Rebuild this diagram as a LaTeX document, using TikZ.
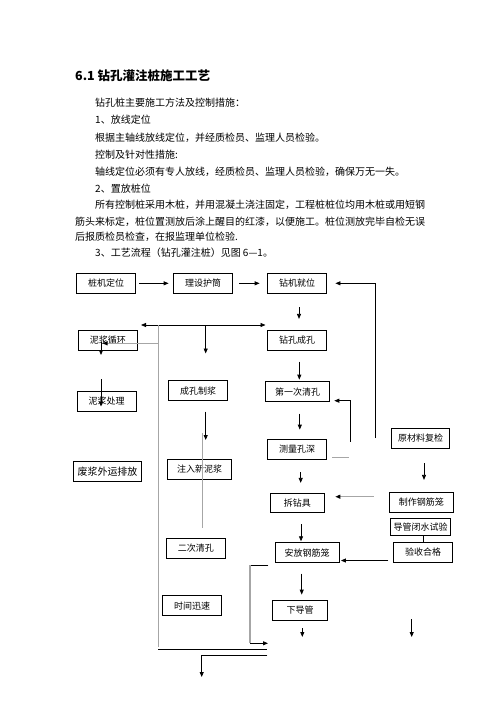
\documentclass[tikz,border=0pt]{standalone}
\usepackage{fontspec}
\setmainfont{Noto Sans CJK SC}
\usetikzlibrary{arrows.meta}
\begin{document}
\begin{tikzpicture}[x=1pt,y=-1pt,
  box/.style={draw,line width=0.8pt,inner sep=0pt,minimum height=20pt,font=\fontsize{9}{10}\selectfont},
  tip/.tip={Triangle[length=5pt,width=4pt]},
  arr/.style={line width=0.8pt,-tip},
  ln/.style={line width=0.8pt},
  gl/.style={line width=1.1pt,gray!70},
  garr/.style={line width=1.1pt,gray!70,-{Triangle[length=5pt,width=4pt,color=black]}},
  body/.style={anchor=west,inner sep=0pt,font=\fontsize{10}{12}\selectfont}]
\useasboundingbox (0,0) rectangle (496,702);
% title and body text
\node[anchor=west,inner sep=0pt,font=\fontsize{12.5}{15}\selectfont\bfseries] (title) at (75,76) {6.1 钻孔灌注桩施工工艺};
\node[body] (t1) at (95,103) {钻孔桩主要施工方法及控制措施：};
\node[body] (t2) at (95,120) {1、放线定位};
\node[body] (t3) at (95,137.3) {根据主轴线放线定位，并经质检员、监理人员检验。};
\node[body] (t4) at (95,154.3) {控制及针对性措施:};
\node[body] (t5) at (95,171.7) {轴线定位必须有专人放线，经质检员、监理人员检验，确保万无一失。};
\node[body] (t6) at (95,188.3) {2、置放桩位};
\node[body] (t7) at (95,204.7) {所有控制桩采用木桩，并用混凝土浇注固定，工程桩桩位均用木桩或用短钢};
\node[body] (t8) at (75,221.7) {筋头来标定，桩位置测放后涂上醒目的红漆，以便施工。桩位测放完毕自检无误};
\node[body] (t9) at (75,237) {后报质检员检查，在报监理单位检验.};
\node[body] (t10) at (95,253) {3、工艺流程（钻孔灌注桩）见图 6—1。};
% boxes
\node[box,minimum width=59pt] (zjdw) at (106.2,283.3) {桩机定位};
\node[box,minimum width=59.4pt] (mshst) at (203,283.3) {理设护筒};
\node[box,minimum width=59.4pt] (zjjw) at (297,283.3) {钻机就位};
\node[box,minimum width=59pt] (njxh) at (107.8,340) {泥浆循环};
\node[box,minimum width=58.7pt] (njcl) at (106.7,401) {泥浆处理};
\node[box,minimum width=68.4pt,font=\fontsize{10}{11}\selectfont] (fjwy) at (107.5,471.7) {废浆外运排放};
\node[box,minimum width=59.2pt] (ckzj) at (198,390.6) {成孔制浆};
\node[box,minimum width=64.4pt] (zrxnj) at (199.5,469.3) {注入新泥浆};
\node[box,minimum width=59.7pt] (ecqk) at (195.8,548.3) {二次清孔};
\node[box,minimum width=59.4pt] (sjxs) at (192,605.7) {时间迅速};
\node[box,minimum width=59.4pt] (zkck) at (297,340.3) {钻孔成孔};
\node[box,minimum width=63.6pt] (dyqk) at (297.5,391.7) {第一次清孔};
\node[box,minimum width=59.4pt] (clks) at (297,449.3) {测量孔深};
\node[box,minimum width=53.3pt,minimum height=19.4pt] (czj) at (297.3,503) {拆钻具};
\node[box,minimum width=64.3pt] (afgjl) at (307.2,552.7) {安放钢筋笼};
\node[box,minimum width=55.4pt] (xdg) at (300,610.3) {下导管};
\node[box,minimum width=57.6pt] (ycl) at (420.5,438.2) {原材料复检};
\node[box,minimum width=64pt,minimum height=20.4pt] (zzgjl) at (421.3,502.5) {制作钢筋笼};
\node[box,minimum width=60pt,minimum height=17.4pt] (dgbs) at (420.7,527) {导管闭水试验};
\node[box,minimum width=59.4pt] (yshg) at (423,552.3) {验收合格};
% connectors top row
\draw[arr,shorten <=3.3pt,shorten >=4.3pt] (zjdw.east) -- (mshst.west);
\draw[arr,shorten <=6.3pt,shorten >=7.3pt] (mshst.east) -- (zjjw.west);
\coordinate (rl) at (375,438);
\draw[arr,shorten >=8.3pt] (rl) |- (zjjw.east);
% horizontal distribution line
\coordinate (hL) at (141,325);
\coordinate (hR) at (265.5,325);
\draw[ln,tip-tip] (hL) -- (hR);
\coordinate (g1t) at (158.3,325);
\coordinate (g1b) at (158.3,647);
\draw[gl] (g1t) -- (g1b);
\coordinate (m1) at (158.3,343.3);
\coordinate (m1e) at (102.5,343.3);
\draw[garr] (m1) -- (m1e);
\coordinate (a1s) at (205.7,325);
\coordinate (a1e) at (205.7,353.5);
\draw[arr] (a1s) -- (a1e);
% left column
\coordinate (b1s) at (101,341.7);
\coordinate (b1e) at (101,355);
\draw[arr] (b1s) -- (b1e);
\coordinate (b2s) at (101,379);
\coordinate (b2e) at (101,406.5);
\draw[arr] (b2s) -- (b2e);
% middle column
\coordinate (c1s) at (205.7,411.7);
\coordinate (c1e) at (205.7,440);
\draw[arr] (c1s) -- (c1e);
\coordinate (g2t) at (202.3,433);
\coordinate (g2b) at (202.3,528);
\draw[gl] (g2t) -- (g2b);
% bottom lines
\coordinate (d1s) at (158.3,649.3);
\coordinate (d1e) at (267.3,649.3);
\draw[ln] (d1s) -- (d1e);
\coordinate (d2s) at (267.3,655.3);
\coordinate (d2m) at (201.7,655.3);
\coordinate (d2e) at (201.7,677);
\draw[arr] (d2s) -- (d2m) -- (d2e);
\coordinate (e1) at (268.3,565);
\coordinate (e2) at (250,565);
\coordinate (e3) at (250,643.3);
\coordinate (e4) at (268,643.3);
\draw[ln] (e1) -- (e2);
\draw[gl] (e2) -- (e3);
\draw[arr] (e3) -- (e4);
% right main column
\draw[arr,shorten <=13.4pt,shorten >=11pt] ([xshift=2pt]zjjw.south) -- ([xshift=2pt]zjjw.south |- zkck.north);
\draw[arr,shorten <=11pt,shorten >=1.7pt] ([xshift=2.3pt]zkck.south) -- ([xshift=2.3pt]zkck.south |- dyqk.north);
\coordinate (f1) at (350.7,441.7);
\coordinate (f2) at (350.7,400.7);
\coordinate (f3) at (334.3,400.7);
\draw[arr] (f1) -- (f2) -- (f3);
\coordinate (f4) at (332.3,457.3);
\coordinate (f5) at (349.3,457.3);
\draw[gl] (f4) -- (f5);
\draw[arr,shorten <=11.6pt,shorten >=9.3pt] ([xshift=2.3pt]dyqk.south) -- ([xshift=2.3pt]dyqk.south |- clks.north);
\draw[arr,shorten <=12.4pt,shorten >=10pt] ([xshift=3.7pt]clks.south) -- ([xshift=3.7pt]clks.south |- czj.north);
\draw[arr,shorten <=11.3pt,shorten >=1pt] ([xshift=3.7pt]czj.south) -- ([xshift=3.7pt]czj.south |- afgjl.north);
\draw[arr,shorten <=10.6pt,shorten >=5.3pt] ([xshift=-5.5pt]afgjl.south) -- ([xshift=-5.5pt]afgjl.south |- xdg.north);
\coordinate (h1s) at (302.3,628.3);
\coordinate (h1e) at (302.3,637);
\draw[arr] (h1s) -- (h1e);
\coordinate (h2s) at (411.7,619.3);
\coordinate (h2e) at (411.7,637);
\draw[arr] (h2s) -- (h2e);
% right column
\draw[arr,shorten <=14.8pt,shorten >=12pt] ([xshift=3.5pt]ycl.south) -- ([xshift=3.5pt]ycl.south |- zzgjl.north);
\coordinate (k1) at (373.8,496.7);
\coordinate (k2) at ([xshift=11pt]czj.east |- k1);
\draw[garr] (k1) -- (k2);
\draw[ln] ([xshift=2.6pt]dgbs.south) -- ([xshift=2.6pt]dgbs.south |- yshg.north);
\coordinate (k3) at (388.3,560.5);
\draw[arr,shorten >=1.2pt] (k3) -- (k3 -| afgjl.east);
\end{tikzpicture}
\end{document}
